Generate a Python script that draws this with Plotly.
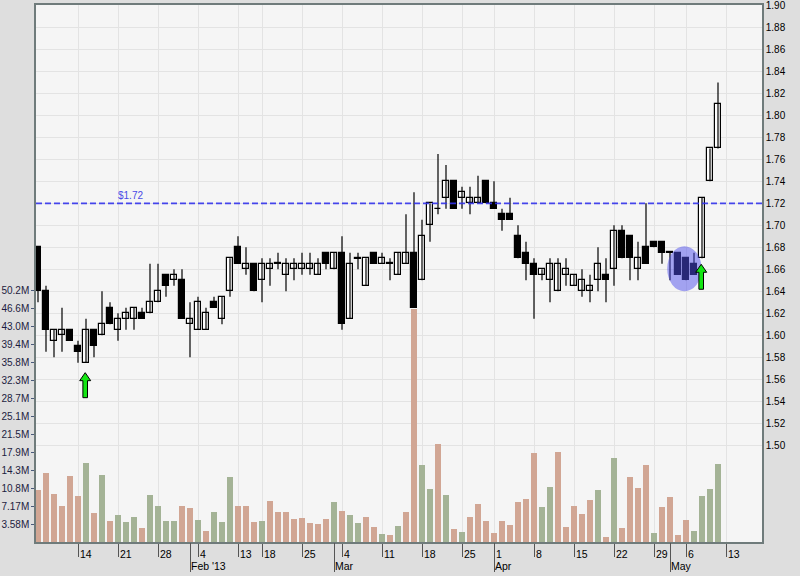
import plotly.graph_objects as go

# ---------------- data (trading days, Jan 7 2013 .. May 10 2013) ----------------
dates = ["2013-01-07","2013-01-08","2013-01-09","2013-01-10","2013-01-11",
         "2013-01-14","2013-01-15","2013-01-16","2013-01-17","2013-01-18",
         "2013-01-21","2013-01-22","2013-01-23","2013-01-24","2013-01-25",
         "2013-01-28","2013-01-29","2013-01-30","2013-01-31","2013-02-01",
         "2013-02-04","2013-02-05","2013-02-06","2013-02-07","2013-02-08",
         "2013-02-13","2013-02-14","2013-02-15",
         "2013-02-18","2013-02-19","2013-02-20","2013-02-21","2013-02-22",
         "2013-02-25","2013-02-26","2013-02-27","2013-02-28","2013-03-01",
         "2013-03-04","2013-03-05","2013-03-06","2013-03-07","2013-03-08",
         "2013-03-11","2013-03-12","2013-03-13","2013-03-14","2013-03-15",
         "2013-03-18","2013-03-19","2013-03-20","2013-03-21","2013-03-22",
         "2013-03-25","2013-03-26","2013-03-27","2013-03-28",
         "2013-04-01","2013-04-02","2013-04-03","2013-04-04","2013-04-05",
         "2013-04-08","2013-04-09","2013-04-10","2013-04-11","2013-04-12",
         "2013-04-15","2013-04-16","2013-04-17","2013-04-18","2013-04-19",
         "2013-04-22","2013-04-23","2013-04-24","2013-04-25","2013-04-26",
         "2013-04-29","2013-04-30","2013-05-02","2013-05-03",
         "2013-05-06","2013-05-07","2013-05-08","2013-05-09","2013-05-10"]

opens = [1.680,1.640,1.595,1.600,1.605, 1.590,1.575,1.605,1.600,1.625,
         1.605,1.615,1.615,1.620,1.620, 1.630,1.655,1.650,1.650,1.610,
         1.605,1.605,1.630,1.615,1.640, 1.680,1.660,1.665,
         1.650,1.660,1.665,1.655,1.660, 1.660,1.660,1.655,1.675,1.660,
         1.675,1.615,1.670,1.645,1.675, 1.665,1.665,1.655,1.665,1.675,
         1.650,1.700,1.715,1.725,1.740, 1.725,1.720,1.720,1.740,
         1.720,1.710,1.710,1.690,1.675, 1.665,1.655,1.650,1.640,1.655,
         1.645,1.640,1.640,1.650,1.655, 1.660,1.695,1.690,1.660,1.680,
         1.685,1.685,1.675,1.675, 1.670,1.665,1.670,1.740,1.770]
highs = [1.680,1.645,1.605,1.625,1.605, 1.595,1.615,1.605,1.640,1.630,
         1.620,1.625,1.625,1.625,1.665, 1.665,1.655,1.660,1.660,1.630,
         1.635,1.625,1.635,1.635,1.670, 1.690,1.680,1.665,
         1.670,1.670,1.675,1.670,1.670, 1.675,1.675,1.670,1.675,1.675,
         1.690,1.675,1.675,1.670,1.675, 1.675,1.670,1.675,1.710,1.730,
         1.705,1.720,1.765,1.755,1.740, 1.735,1.735,1.745,1.740,
         1.740,1.715,1.725,1.700,1.685, 1.670,1.660,1.670,1.670,1.670,
         1.655,1.660,1.655,1.680,1.670, 1.700,1.700,1.690,1.685,1.720,
         1.685,1.685,1.675,1.675, 1.670,1.675,1.725,1.770,1.830]
lows = [1.630,1.585,1.580,1.585,1.595, 1.575,1.575,1.580,1.600,1.610,
        1.595,1.605,1.605,1.615,1.620, 1.630,1.635,1.645,1.615,1.580,
        1.605,1.605,1.625,1.610,1.635, 1.665,1.655,1.640,
        1.630,1.645,1.660,1.640,1.650, 1.655,1.655,1.655,1.660,1.660,
        1.605,1.615,1.660,1.645,1.665, 1.665,1.650,1.655,1.665,1.625,
        1.650,1.685,1.710,1.715,1.715, 1.715,1.710,1.720,1.720,
        1.715,1.695,1.705,1.670,1.650, 1.615,1.650,1.630,1.640,1.645,
        1.645,1.635,1.630,1.640,1.630, 1.645,1.670,1.650,1.650,1.665,
        1.680,1.665,1.650,1.655, 1.650,1.655,1.670,1.740,1.770]
closes = [1.640,1.605,1.605,1.605,1.595, 1.585,1.605,1.590,1.610,1.610,
          1.615,1.620,1.625,1.615,1.630, 1.640,1.645,1.655,1.615,1.615,
          1.630,1.620,1.625,1.635,1.670, 1.665,1.665,1.640,
          1.665,1.665,1.665,1.665,1.665, 1.665,1.665,1.665,1.665,1.675,
          1.610,1.665,1.670,1.670,1.665, 1.670,1.665,1.675,1.675,1.625,
          1.690,1.720,1.715,1.740,1.715, 1.730,1.725,1.725,1.720,
          1.715,1.705,1.705,1.670,1.665, 1.655,1.660,1.665,1.665,1.660,
          1.655,1.650,1.645,1.665,1.650, 1.695,1.670,1.670,1.670,1.665,
          1.680,1.675,1.675,1.655, 1.650,1.655,1.725,1.770,1.810]
volumes_m = [10.4,13.8,9.6,7.2,13.2, 9.2,15.8,5.8,13.4,4.2,
             5.4,4.0,5.0,2.8,9.4, 7.2,4.2,4.2,7.2,6.8,
             4.4,2.2,6.0,4.0,13.0, 7.2,7.2,4.0,
             4.2,8.2,6.0,6.0,4.6, 4.8,3.8,3.6,4.6,8.0,
             6.2,5.4,3.8,5.0,3.0, 1.6,1.4,3.2,6.0,46.6,
             15.4,10.6,19.6,9.4,2.6, 2.0,5.0,7.6,4.2,
             1.8,4.2,3.4,8.0,8.6, 17.8,7.0,11.0,18.0,3.0,
             7.2,5.6,8.4,10.4,1.0, 16.8,2.8,13.0,10.8,15.4,
             1.8,7.0,9.0,1.4, 4.4,2.2,9.2,10.6,15.6]

week_tick_idx = [5,10,15,20,25,28,33,38,43,48,53,57,62,67,72,77,81,86]
week_tick_text = ["14","21","28","4","13","18","25","4","11","18","25","1","8","15","22","29","6","13"]
month_tick_idx = [19,37,57,79]
month_tick_text = ["Feb '13","Mar","Apr","May"]

vol_tick_vals = [3.584 * k for k in range(1, 15)]
vol_tick_text = ["3.58M","7.17M","10.8M","14.3M","17.9M","21.5M","25.1M",
                 "28.7M","32.3M","35.8M","39.4M","43.0M","46.6M","50.2M"]
price_tick_vals = [round(1.50 + 0.02 * k, 2) for k in range(21)]

resistance_level = 1.72
signal_idx = [6, 83]          # green up-arrow signals
highlight_idx = [79, 82]      # candles circled in blue

# ---------------- styling ----------------
FONT = "Liberation Sans, Arial, sans-serif"
UP_VOL = "#a4b396"
DN_VOL = "#d1a694"
FRAME = "#6f7b7b"
GRID = "#e3e3e3"

n = len(closes)
xs = list(range(n))
vol_colors = [DN_VOL] + [UP_VOL if closes[i] > closes[i - 1] else DN_VOL for i in range(1, n)]

fig = go.Figure()

# volume bars (left axis)
fig.add_trace(go.Bar(x=xs, y=volumes_m, width=0.85, marker=dict(color=vol_colors, line=dict(width=0)),
                     yaxis="y", hoverinfo="skip", showlegend=False))

# wicks
wx, wy = [], []
for i in xs:
    wx += [i, i, None]
    wy += [lows[i], highs[i], None]
fig.add_trace(go.Scatter(x=wx, y=wy, mode="lines", line=dict(color="black", width=1.2),
                         yaxis="y2", hoverinfo="skip", showlegend=False))

# bodies
min_h = 0.0006
for up in (True, False):
    bx, bb, bh = [], [], []
    for i in xs:
        is_up = closes[i] > opens[i]
        if is_up != up:
            continue
        lo = min(opens[i], closes[i])
        h = abs(closes[i] - opens[i])
        if h < min_h:
            lo -= min_h / 2
            h = min_h
        bx.append(i); bb.append(lo); bh.append(h)
    fig.add_trace(go.Bar(x=bx, y=bh, base=bb, width=0.8, yaxis="y2",
                         marker=dict(color="white" if up else "black", line=dict(color="black", width=1.2)),
                         hoverinfo="skip", showlegend=False))

# dummy trace for the month-tick axis
fig.add_trace(go.Scatter(x=[-10], y=[0], xaxis="x2", yaxis="y", mode="markers",
                         marker=dict(opacity=0), hoverinfo="skip", showlegend=False))

x_range = [-0.25, 90.5]
shapes = []
# resistance line
shapes.append(dict(type="line", xref="paper", yref="y2", x0=0, x1=1,
                   y0=resistance_level, y1=resistance_level,
                   line=dict(color="rgba(50,50,235,0.9)", width=1.6, dash="6px,3px"), layer="above"))
# highlight ellipse
h0, h1 = highlight_idx
hx_c = (h0 + h1) / 2 + 0.3
hy_lo = min(lows[h0:h1 + 1]) - 0.01
hy_hi = max(highs[h0:h1 + 1]) + 0.006
shapes.append(dict(type="circle", xref="x", yref="y2", x0=hx_c - 2.15, x1=hx_c + 2.15,
                   y0=hy_lo, y1=hy_hi, fillcolor="rgba(80,80,235,0.5)", line=dict(width=0),
                   layer="above"))
# arrows
arrow_path = "M 0 -6 L 5.5 -14 L 2.3 -14 L 2.3 -31 L -2.3 -31 L -2.3 -14 L -5.5 -14 Z"
arrow_drop = [4, 0]   # extra pixel gap below the low for each signal
for i, d in zip(signal_idx, arrow_drop):
    shapes.append(dict(type="path", xref="x", yref="y2", xsizemode="pixel", ysizemode="pixel",
                       xanchor=i - 0.1, yanchor=lows[i], path=arrow_path.replace("-6 ", f"-{6 + d} ").replace("-14", f"-{14 + d}").replace("-31", f"-{31 + d}"),
                       fillcolor="#14e614", line=dict(color="black", width=1), layer="above"))

annotations = []
for v, t in zip(week_tick_idx, week_tick_text):
    annotations.append(dict(x=v, y=0, xref="x", yref="paper", text=t, showarrow=False,
                            xanchor="left", yanchor="middle", xshift=0, yshift=-12,
                            font=dict(family=FONT, size=10.5, color="black")))
for v, t in zip(month_tick_idx, month_tick_text):
    annotations.append(dict(x=v, y=0, xref="x", yref="paper", text=t, showarrow=False,
                            xanchor="left", yanchor="middle", xshift=-1, yshift=-24,
                            font=dict(family=FONT, size=10.5, color="black")))
annotations.append(dict(x=0.11, y=resistance_level, xref="paper", yref="y2", text="$1.72",
                        showarrow=False, xanchor="left", yanchor="bottom", yshift=0,
                        font=dict(family=FONT, size=10, color="#4a4ae6")))

fig.update_layout(
    width=800, height=576,
    margin=dict(l=36, r=38, t=5, b=34, autoexpand=False),
    paper_bgcolor="#dedede",
    plot_bgcolor="#f5f5f5",
    barmode="overlay",
    bargap=0,
    showlegend=False,
    font=dict(family=FONT, size=10, color="black"),
    xaxis=dict(range=x_range, tickmode="array", tickvals=week_tick_idx, showticklabels=False,
               ticks="outside", ticklen=13, tickwidth=1, tickcolor="#555", automargin=False,
               showgrid=True, gridcolor=GRID, gridwidth=1, zeroline=False,
               showline=True, linecolor=FRAME, linewidth=1.5, mirror=True),
    xaxis2=dict(range=x_range, overlaying="x", anchor="y", side="bottom", tickmode="array",
                tickvals=month_tick_idx, showticklabels=False, ticks="outside", ticklen=29,
                automargin=False,
                tickwidth=1, tickcolor="#555", showgrid=False, zeroline=False, showline=False),
    yaxis=dict(range=[0, 107.3], tickmode="array", tickvals=vol_tick_vals, ticktext=vol_tick_text,
               side="left", ticks="outside", ticklen=3, tickcolor="#4a5a7a", showgrid=False,
               zeroline=False, showline=True, linecolor=FRAME, linewidth=1.5, automargin=False,
               tickfont=dict(family=FONT, size=10, color="#1c1c40")),
    yaxis2=dict(range=[1.4118, 1.9005], overlaying="y", side="right", tickmode="array",
                tickvals=price_tick_vals, ticktext=[f"{v:.2f}" for v in price_tick_vals],
                ticks="", showgrid=True, gridcolor=GRID, gridwidth=1, zeroline=False,
                showline=True, linecolor=FRAME, linewidth=1.5, automargin=False,
                tickfont=dict(family=FONT, size=10, color="black")),
    shapes=shapes,
    annotations=annotations,
)

fig.write_html("out.html", config={"displayModeBar": False},
               post_script="document.body.style.margin='0px';document.body.style.overflow='hidden';")
